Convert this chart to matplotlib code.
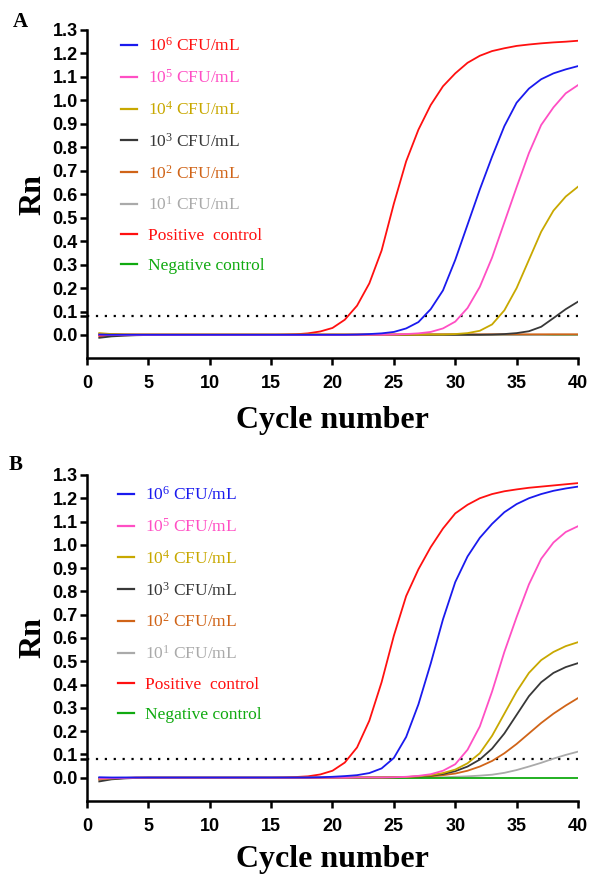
import matplotlib
matplotlib.use('Agg')
import matplotlib.pyplot as plt

plt.rcParams['mathtext.fontset'] = 'custom'
plt.rcParams['mathtext.rm'] = 'Liberation Serif'
plt.rcParams['mathtext.it'] = 'Liberation Serif:italic'
plt.rcParams['mathtext.bf'] = 'Liberation Serif:bold'

cycles = list(range(1, 41))
threshold = 0.082

labels = ['10$^{6}$ CFU/mL', '10$^{5}$ CFU/mL', '10$^{4}$ CFU/mL', '10$^{3}$ CFU/mL',
          '10$^{2}$ CFU/mL', '10$^{1}$ CFU/mL', 'Positive  control', 'Negative control']
colors = ['#1a1aee', '#ff4fc4', '#c8a800', '#383838', '#d06418', '#aaaaaa', '#ff1010', '#10aa10']

# panel A
a_1e6 = [0.002, 0.001, 0.001, 0.001, 0.001, 0.001, 0.001, 0.001, 0.001, 0.001,
         0.001, 0.001, 0.001, 0.001, 0.001, 0.001, 0.001, 0.001, 0.001, 0.001,
         0.001, 0.002, 0.004, 0.007, 0.013, 0.028, 0.055, 0.11, 0.19, 0.32,
         0.47, 0.62, 0.76, 0.89, 0.99, 1.05, 1.09, 1.115, 1.132, 1.146]
a_1e5 = [0.001, 0.0, 0.0, 0.0, 0.0, 0.0, 0.0, 0.0, 0.0, 0.0,
         0.0, 0.0, 0.0, 0.0, 0.0, 0.0, 0.0, 0.0, 0.0, 0.0,
         0.0, 0.001, 0.001, 0.001, 0.002, 0.004, 0.007, 0.013, 0.028, 0.057,
         0.115, 0.205, 0.33, 0.48, 0.63, 0.775, 0.895, 0.97, 1.03, 1.065]
a_1e4 = [0.008, 0.004, 0.002, 0.001, 0.001, 0.001, 0.001, 0.001, 0.001, 0.001,
         0.001, 0.001, 0.001, 0.001, 0.001, 0.001, 0.001, 0.001, 0.001, 0.001,
         0.001, 0.001, 0.001, 0.001, 0.001, 0.001, 0.001, 0.002, 0.002, 0.004,
         0.008, 0.018, 0.045, 0.105, 0.2, 0.32, 0.44, 0.53, 0.59, 0.632]
a_1e3 = [-0.012, -0.006, -0.003, -0.001, 0.0, 0.0, 0.0, 0.0, 0.0, 0.0,
         0.0, 0.0, 0.0, 0.0, 0.0, 0.0, 0.0, 0.0, 0.0, 0.0,
         0.0, 0.0, 0.0, 0.0, 0.0, 0.0, 0.001, 0.001, 0.001, 0.001,
         0.001, 0.001, 0.002, 0.004, 0.008, 0.016, 0.035, 0.072, 0.11, 0.142]
a_1e2 = [0.005, 0.004, 0.003, 0.003, 0.003, 0.003, 0.003, 0.003, 0.003, 0.003,
         0.003, 0.003, 0.003, 0.003, 0.003, 0.003, 0.003, 0.003, 0.003, 0.003,
         0.003, 0.003, 0.003, 0.003, 0.003, 0.003, 0.003, 0.003, 0.003, 0.003,
         0.003, 0.003, 0.003, 0.003, 0.003, 0.003, 0.003, 0.003, 0.003, 0.003]
a_1e1 = [0.0, 0.0, 0.0, 0.0, 0.0, 0.0, 0.0, 0.0, 0.0, 0.0,
         0.0, 0.0, 0.0, 0.0, 0.0, 0.0, 0.0, 0.0, 0.0, 0.0,
         0.0, 0.0, 0.0, 0.0, 0.0, 0.0, 0.0, 0.0, 0.0, 0.0,
         0.0, 0.0, 0.0, 0.0, 0.0, 0.0, 0.0, 0.001, 0.001, 0.001]
a_pos = [-0.004, -0.002, -0.001, 0.0, 0.0, 0.0, 0.0, 0.0, 0.0, 0.0,
         0.0, 0.0, 0.0, 0.0, 0.0, 0.001, 0.003, 0.007, 0.015, 0.03,
         0.065, 0.125, 0.22, 0.36, 0.56, 0.74, 0.875, 0.98, 1.06, 1.115,
         1.16, 1.19, 1.21, 1.222, 1.232, 1.238, 1.243, 1.247, 1.25, 1.254]
a_neg = [0.0, 0.0, 0.0, 0.0, 0.0, 0.0, 0.0, 0.0, 0.0, 0.0,
         0.0, 0.0, 0.0, 0.0, 0.0, 0.0, 0.0, 0.0, 0.0, 0.0,
         0.0, 0.0, 0.0, 0.0, 0.0, 0.0, 0.0, 0.0, 0.0, 0.0,
         0.0, 0.0, 0.0, 0.0, 0.0, 0.0, 0.0, 0.0, 0.0, 0.0]

# panel B
b_1e6 = [0.002, 0.001, 0.001, 0.001, 0.001, 0.001, 0.001, 0.001, 0.001, 0.001,
         0.001, 0.001, 0.001, 0.001, 0.001, 0.001, 0.001, 0.001, 0.002, 0.004,
         0.007, 0.011, 0.02, 0.04, 0.085, 0.175, 0.315, 0.49, 0.68, 0.84,
         0.95, 1.03, 1.09, 1.14, 1.175, 1.2, 1.218, 1.232, 1.242, 1.25]
b_1e5 = [-0.004, -0.002, -0.001, 0.0, 0.0, 0.0, 0.0, 0.0, 0.0, 0.0,
         0.0, 0.0, 0.0, 0.0, 0.0, 0.0, 0.0, 0.0, 0.0, 0.0,
         0.0, 0.001, 0.001, 0.001, 0.002, 0.004, 0.008, 0.015, 0.03, 0.058,
         0.12, 0.22, 0.37, 0.54, 0.69, 0.83, 0.94, 1.01, 1.055, 1.08]
b_1e4 = [-0.006, -0.003, -0.001, 0.0, 0.0, 0.0, 0.0, 0.0, 0.0, 0.0,
         0.0, 0.0, 0.0, 0.0, 0.0, 0.0, 0.0, 0.0, 0.0, 0.0,
         0.0, 0.001, 0.001, 0.001, 0.002, 0.003, 0.006, 0.011, 0.02, 0.035,
         0.062, 0.105, 0.18, 0.275, 0.37, 0.45, 0.505, 0.54, 0.565, 0.582]
b_1e3 = [-0.016, -0.007, -0.003, -0.001, 0.0, 0.0, 0.0, 0.0, 0.0, 0.0,
         0.0, 0.0, 0.0, 0.0, 0.0, 0.0, 0.0, 0.0, 0.0, 0.0,
         0.0, 0.001, 0.001, 0.001, 0.002, 0.003, 0.005, 0.009, 0.016, 0.028,
         0.048, 0.078, 0.125, 0.19, 0.27, 0.35, 0.41, 0.45, 0.475, 0.492]
b_1e2 = [-0.009, -0.004, -0.002, 0.0, 0.0, 0.0, 0.0, 0.0, 0.0, 0.0,
         0.0, 0.0, 0.0, 0.0, 0.0, 0.0, 0.0, 0.0, 0.0, 0.0,
         0.0, 0.0, 0.001, 0.001, 0.001, 0.002, 0.003, 0.006, 0.011, 0.018,
         0.03, 0.048, 0.072, 0.105, 0.145, 0.19, 0.235, 0.275, 0.31, 0.342]
b_1e1 = [-0.003, -0.001, 0.0, 0.0, 0.0, 0.0, 0.0, 0.0, 0.0, 0.0,
         0.0, 0.0, 0.0, 0.0, 0.0, 0.0, 0.0, 0.0, 0.0, 0.0,
         0.0, 0.0, 0.0, 0.0, 0.0, 0.0, 0.001, 0.001, 0.002, 0.004,
         0.006, 0.009, 0.013, 0.021, 0.033, 0.048, 0.064, 0.082, 0.098, 0.112]
b_pos = [-0.004, -0.002, -0.001, 0.0, 0.0, 0.0, 0.0, 0.0, 0.0, 0.0,
         0.0, 0.0, 0.0, 0.0, 0.0, 0.001, 0.003, 0.006, 0.014, 0.03,
         0.065, 0.13, 0.245, 0.41, 0.61, 0.78, 0.895, 0.99, 1.07, 1.135,
         1.172, 1.2, 1.218, 1.23, 1.238, 1.245, 1.25, 1.255, 1.26, 1.265]
b_neg = [0.0, 0.0, 0.0, 0.0, 0.0, 0.0, 0.0, 0.0, 0.0, 0.0,
         0.0, 0.0, 0.0, 0.0, 0.0, 0.0, 0.0, 0.0, 0.0, 0.0,
         0.0, 0.0, 0.0, 0.0, 0.0, 0.0, 0.0, 0.0, 0.0, 0.0,
         0.0, 0.0, 0.0, 0.0, 0.0, 0.0, 0.0, 0.0, 0.0, 0.0]

series_a = [a_1e6, a_1e5, a_1e4, a_1e3, a_1e2, a_1e1, a_pos, a_neg]
series_b = [b_1e6, b_1e5, b_1e4, b_1e3, b_1e2, b_1e1, b_pos, b_neg]
# drawing order (bottom to top)
order_a = [7, 5, 6, 4, 3, 2, 1, 0]
order_b = [6, 5, 4, 7, 3, 2, 1, 0]


def draw_panel(ax, series, order, text_colors, legend_anchor, xlabel_pad):
    lines = {}
    for z, i in enumerate(order):
        lines[i], = ax.plot(cycles, series[i], color=colors[i], lw=1.3, zorder=2 + z,
                            label=labels[i], solid_joinstyle='round')
    ax.axhline(threshold, color='black', lw=1.6, ls=(0, (1, 3)), zorder=1)
    ax.set_xlim(0, 40)
    ax.set_ylim(-0.1, 1.3)
    ax.set_xticks(range(0, 41, 5))
    ax.set_yticks([i / 10 for i in range(0, 14)])
    ax.set_yticks([threshold], minor=True)
    ax.yaxis.set_major_formatter(matplotlib.ticker.FormatStrFormatter('%.1f'))
    for s in ['top', 'right']:
        ax.spines[s].set_visible(False)
    for s in ['left', 'bottom']:
        ax.spines[s].set_linewidth(1.8)
    ax.tick_params(which='both', width=1.8, length=5, labelsize=13, pad=1.5)
    ax.tick_params(axis='x', length=5, pad=7)
    for t in ax.get_xticklabels() + ax.get_yticklabels():
        t.set_fontweight('bold')
        t.set_family('Liberation Sans')
    ax.set_ylabel('Rn', family='Liberation Serif', fontweight='bold', fontsize=23, labelpad=4)
    ax.set_xlabel('Cycle number', family='Liberation Serif', fontweight='bold', fontsize=23,
                  labelpad=xlabel_pad)
    leg = ax.legend([lines[i] for i in range(8)], labels, loc='upper left',
                    bbox_to_anchor=legend_anchor, frameon=False, borderpad=0,
                    borderaxespad=0, handlelength=0.95, handletextpad=0.6,
                    labelspacing=0.8, prop={'family': 'Liberation Serif', 'size': 12.5})
    for t, c in zip(leg.get_texts(), text_colors):
        t.set_color(c)
    for h in leg.get_lines():
        h.set_linewidth(1.6)


fig = plt.figure(figsize=(5.93, 8.76), dpi=100)
ax_a = fig.add_axes([0.1467, 0.5908, 0.828, 0.375])
ax_b = fig.add_axes([0.1467, 0.0856, 0.828, 0.3722])

legend_colors_a = [colors[6]] + colors[1:]
draw_panel(ax_a, series_a, order_a, legend_colors_a, (0.069, 0.978), 10)
draw_panel(ax_b, series_b, order_b, colors, (0.063, 0.966), 7.5)

fig.text(0.022, 0.975, 'A', family='Liberation Serif', fontweight='bold', fontsize=15, va='center')
fig.text(0.014, 0.469, 'B', family='Liberation Serif', fontweight='bold', fontsize=15, va='center')

fig.savefig('out.png', dpi=100)
